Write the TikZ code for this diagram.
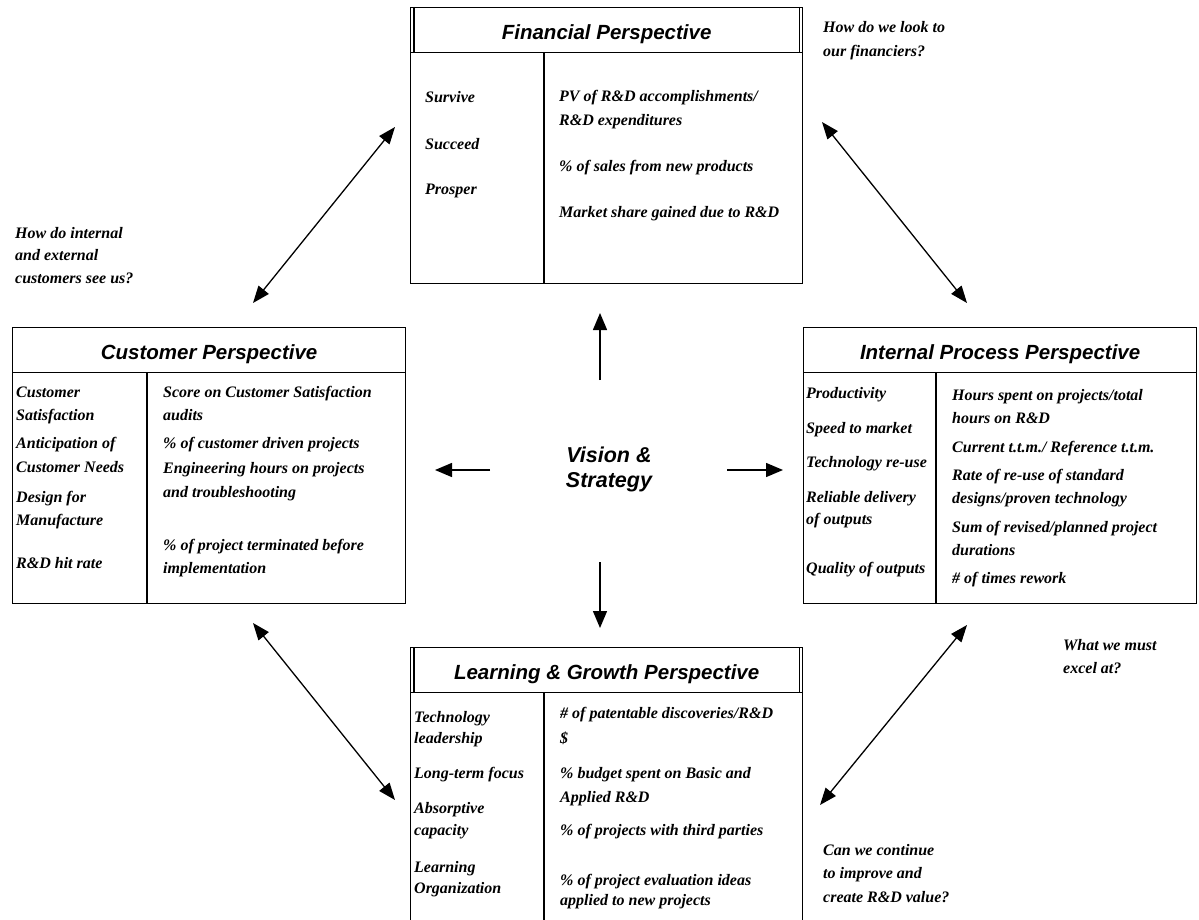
\documentclass[tikz,border=0pt]{standalone}
\usepackage{fontspec}
\setmainfont{Liberation Serif}
\setsansfont{Liberation Sans}
\usetikzlibrary{positioning,arrows.meta}
\newcommand{\itemfont}{\fontsize{16}{19}\selectfont\bfseries\itshape}
\newcommand{\headfont}{\fontsize{20.5}{25}\selectfont\sffamily\bfseries\itshape}
\tikzset{
  panel/.style={draw,line width=1.3pt,anchor=north west,inner sep=0pt},
  paneltitle/.style={draw,line width=1.3pt,anchor=north west,inner sep=0pt,
    minimum height=45pt,font=\headfont,text height=19pt,text depth=0pt},
  item/.style={anchor=base west,inner sep=0pt,font=\itemfont},
  push/.style={-{Triangle[length=17pt,width=14pt]},line width=1.4pt},
  link/.style={{Triangle[length=17pt,width=13pt]}-{Triangle[length=17pt,width=13pt]},line width=1.3pt}
}

\begin{document}
\begin{tikzpicture}[x=1pt,y=-1pt]
\useasboundingbox (0,0) rectangle (1199,920);
% Financial
\node[panel,minimum width=392pt,minimum height=276pt] (finbox) at (410,7) {};
\node[paneltitle,minimum width=392pt] (fintitle) at (410,7) {Financial Perspective};
\draw[line width=1.3pt] ([xshift=4pt]fintitle.north west) -- ([xshift=4pt]fintitle.south west);
\draw[line width=1.3pt] ([xshift=-4pt]fintitle.north east) -- ([xshift=-4pt]fintitle.south east);
\draw[line width=1.3pt] (fintitle.south -| 544,0) -- (finbox.south -| 544,0);
\node[item] (finL1) at (425,103) {Survive};
\node[item] (finL2) at (425,150) {Succeed};
\node[item] (finL3) at (425,195) {Prosper};
\node[item] (finR1) at (559,102) {PV of R\&D accomplishments/};
\node[item] (finR2) at (559,126) {R\&D expenditures};
\node[item] (finR3) at (559,172) {\% of sales from new products};
\node[item] (finR4) at (559,218) {Market share gained due to R\&D};
% Customer
\node[panel,minimum width=393pt,minimum height=276pt] (cusbox) at (12,327) {};
\node[paneltitle,minimum width=393pt] (custitle) at (12,327) {Customer Perspective};
\draw[line width=1.3pt] (custitle.south -| 147,0) -- (cusbox.south -| 147,0);
\node[item] (cusL1) at (16,397) {Customer};
\node[item] (cusL2) at (16,420) {Satisfaction};
\node[item] (cusL3) at (16,448) {Anticipation of};
\node[item] (cusL4) at (16,472) {Customer Needs};
\node[item] (cusL5) at (16,502) {Design for};
\node[item] (cusL6) at (16,525) {Manufacture};
\node[item] (cusL7) at (16,568) {R\&D hit rate};
\node[item] (cusR1) at (163,397) {Score on Customer Satisfaction};
\node[item] (cusR2) at (163,420) {audits};
\node[item] (cusR3) at (163,448) {\% of customer driven projects};
\node[item] (cusR4) at (163,473) {Engineering hours on projects};
\node[item] (cusR5) at (163,497) {and troubleshooting};
\node[item] (cusR6) at (163,550) {\% of project terminated before};
\node[item] (cusR7) at (163,573) {implementation};
% Internal Process
\node[panel,minimum width=393pt,minimum height=276pt] (intbox) at (803,327) {};
\node[paneltitle,minimum width=393pt] (inttitle) at (803,327) {Internal Process Perspective};
\draw[line width=1.3pt] (inttitle.south -| 936,0) -- (intbox.south -| 936,0);
\node[item] (intL1) at (806,398) {Productivity};
\node[item] (intL2) at (806,433) {Speed to market};
\node[item] (intL3) at (806,467) {Technology re-use};
\node[item] (intL4) at (806,502) {Reliable delivery};
\node[item] (intL5) at (806,524) {of outputs};
\node[item] (intL6) at (806,573) {Quality of outputs};
\node[item] (intR1) at (952,400) {Hours spent on projects/total};
\node[item] (intR2) at (952,423) {hours on R\&D};
\node[item] (intR3) at (952,452) {Current t.t.m./ Reference t.t.m.};
\node[item] (intR4) at (952,480) {Rate of re-use of standard};
\node[item] (intR5) at (952,503) {designs/proven technology};
\node[item] (intR6) at (952,532) {Sum of revised/planned project};
\node[item] (intR7) at (952,555) {durations};
\node[item] (intR8) at (952,583) {\# of times rework};
% Learning & Growth
\node[panel,minimum width=392pt,minimum height=300pt] (lrnbox) at (410,647) {};
\node[paneltitle,minimum width=392pt] (lrntitle) at (410,647) {Learning \& Growth Perspective};
\draw[line width=1.3pt] ([xshift=4pt]lrntitle.north west) -- ([xshift=4pt]lrntitle.south west);
\draw[line width=1.3pt] ([xshift=-4pt]lrntitle.north east) -- ([xshift=-4pt]lrntitle.south east);
\draw[line width=1.3pt] (lrntitle.south -| 544,0) -- (lrnbox.south -| 544,0);
\node[item] (lrnL1) at (414,722) {Technology};
\node[item] (lrnL2) at (414,743) {leadership};
\node[item] (lrnL3) at (414,778) {Long-term focus};
\node[item] (lrnL4) at (414,813) {Absorptive};
\node[item] (lrnL5) at (414,835) {capacity};
\node[item] (lrnL6) at (414,872) {Learning};
\node[item] (lrnL7) at (414,893) {Organization};
\node[item] (lrnR1) at (560,718) {\# of patentable discoveries/R\&D};
\node[item] (lrnR2) at (560,743) {\$};
\node[item] (lrnR3) at (560,778) {\% budget spent on Basic and};
\node[item] (lrnR4) at (560,802) {Applied R\&D};
\node[item] (lrnR5) at (560,835) {\% of projects with third parties};
\node[item] (lrnR6) at (560,885) {\% of project evaluation ideas};
\node[item] (lrnR7) at (560,905) {applied to new projects};
% questions
\node[item] (askfin1) at (823,33) {How do we look to};
\node[item] (askfin2) at (823,57) {our financiers?};
\node[item] (askcus1) at (15,238) {How do internal};
\node[item] (askcus2) at (15,260) {and external};
\node[item] (askcus3) at (15,283) {customers see us?};
\node[item] (askint1) at (1063,650) {What we must};
\node[item] (askint2) at (1063,673) {excel at?};
\node[item] (asklrn1) at (823,855) {Can we continue};
\node[item] (asklrn2) at (823,878) {to improve and};
\node[item] (asklrn3) at (823,902) {create R\&D value?};
% centre
\node[font=\fontsize{21.5}{25}\selectfont\sffamily\bfseries\itshape,align=center,inner sep=0pt] (vision) at (609,469) {Vision \&\\Strategy};
\coordinate (vsN) at (600,380);
\coordinate (vsS) at (600,562);
\coordinate (vsW) at (490,470);
\coordinate (vsE) at (727,470);
\coordinate (toFin) at (600,313);
\coordinate (toLrn) at (600,628);
\coordinate (toCus) at (435,470);
\coordinate (toInt) at (783,470);
\draw[push] (vsN) -- (toFin);
\draw[push] (vsS) -- (toLrn);
\draw[push] (vsW) -- (toCus);
\draw[push] (vsE) -- (toInt);
% links between perspectives
\coordinate (cusNE) at (253,303);
\coordinate (finSW) at (395,127);
\coordinate (finSE) at (822,122);
\coordinate (intNW) at (967,303);
\coordinate (cusSE) at (253,623);
\coordinate (lrnNW) at (395,800);
\coordinate (intSW) at (967,625);
\coordinate (lrnNE) at (820,805);
\draw[link] (cusNE) -- (finSW);
\draw[link] (finSE) -- (intNW);
\draw[link] (cusSE) -- (lrnNW);
\draw[link] (intSW) -- (lrnNE);
\end{tikzpicture}
\end{document}
